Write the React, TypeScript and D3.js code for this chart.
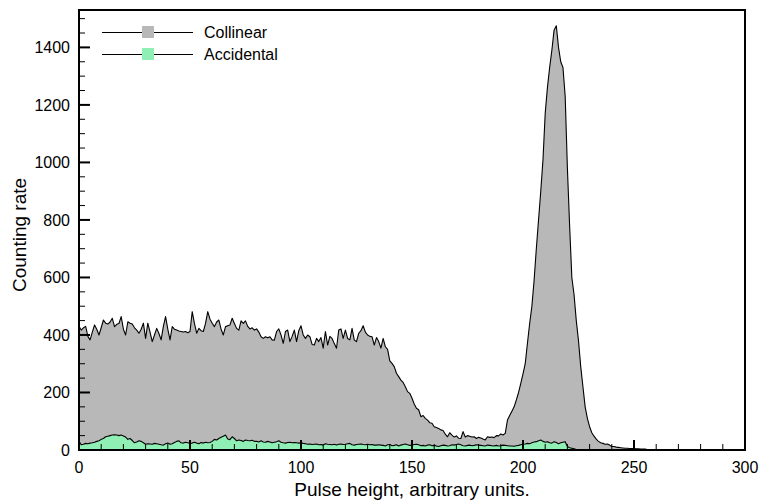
import * as d3 from 'd3';

// pulse height channels 0..300
const pulseHeight = d3.range(0, 301);

// counting rate, collinear coincidences (one value per channel)
const collinear = [
  430, 417, 425, 430, 395, 383, 410, 435, 420, 400,
  425, 452, 441, 438, 445, 458, 429, 437, 440, 464,
  420, 400, 446, 441, 438, 425, 417, 406, 420, 441,
  388, 441, 410, 377, 400, 423, 405, 383, 430, 464,
  420, 383, 429, 420, 417, 414, 412, 410, 412, 408,
  412, 481, 440, 406, 423, 415, 412, 440, 481, 455,
  441, 429, 445, 452, 420, 400, 429, 432, 435, 458,
  440, 423, 417, 449, 440, 449, 430, 421, 425, 417,
  421, 410, 394, 388, 394, 390, 394, 383, 382, 412,
  421, 400, 371, 412, 417, 377, 395, 417, 377, 415,
  432, 400, 388, 400, 394, 367, 365, 388, 377, 391,
  354, 412, 365, 395, 388, 370, 354, 417, 421, 388,
  417, 388, 383, 423, 382, 377, 406, 415, 432, 410,
  400, 395, 394, 365, 391, 377, 354, 388, 359, 350,
  310, 301, 290, 267, 255, 243, 235, 220, 203, 197,
  180, 160, 145, 140, 116, 120, 110, 104, 95, 93,
  81, 78, 75, 70, 68, 55, 46, 60, 52, 45,
  49, 41, 40, 64, 45, 50, 48, 45, 46, 40,
  44, 42, 38, 35, 46, 44, 45, 43, 50, 49,
  56, 52, 58, 104, 120, 135, 150, 174, 200, 232,
  265, 300, 371, 440, 500, 590, 700, 800, 900, 1009,
  1170, 1260, 1330, 1390, 1460, 1475, 1400, 1350, 1330, 1230,
  980, 780, 600, 540, 450, 380, 290, 220, 150, 110,
  81, 60, 48, 38, 30, 25, 23, 20, 21, 17,
  12, 12, 10, 9, 8, 7, 6, 6, 5, 5,
  5, 4, 4, 3, 3, 3, 2, 2, 2, 1,
  1, 1, 2, 1, 0, 1, 2, 1, 0, 0,
  1, 0, 0, 1, 0, 0, 0, 1, 0, 0,
  0, 0, 1, 0, 0, 0, 0, 0, 1, 0,
  0, 0, 0, 0, 1, 0, 0, 0, 0, 0,
  0,
];

// counting rate, accidental coincidences
const accidental = [
  30, 18, 20, 23, 22, 24, 25, 27, 30, 32,
  37, 40, 46, 48, 50, 52, 53, 52, 50, 52,
  49, 45, 37, 40, 33, 25, 28, 32, 30, 25,
  20, 22, 21, 20, 23, 22, 20, 18, 17, 22,
  24, 20, 22, 26, 30, 32, 25, 24, 27, 25,
  23, 24, 27, 24, 22, 26, 24, 27, 25, 26,
  30, 37, 35, 40, 44, 48, 52, 38, 36, 46,
  40, 32, 35, 33, 30, 35, 33, 32, 34, 30,
  30, 28, 32, 28, 27, 30, 28, 25, 27, 29,
  32, 27, 25, 24, 26, 27, 25, 26, 25, 24,
  25, 23, 22, 20, 21, 19, 20, 21, 18, 19,
  17, 22, 20, 19, 18, 20, 17, 20, 21, 19,
  20, 22, 23, 18, 17, 19, 20, 21, 19, 18,
  20, 18, 19, 17, 17, 18, 17, 16, 14, 18,
  19, 15, 16, 18, 14, 17, 19, 21, 18, 16,
  17, 19, 20, 18, 15, 16, 14, 17, 18, 15,
  16, 14, 12, 15, 17, 16, 14, 15, 18, 17,
  19, 21, 18, 15, 14, 16, 17, 15, 16, 18,
  17, 16, 15, 14, 17, 16, 15, 14, 16, 14,
  15, 17, 16, 15, 14, 14, 13, 15, 16, 18,
  20, 21, 23, 22, 25, 28, 29, 32, 35, 30,
  27, 29, 25, 24, 29, 26, 22, 25, 27, 29,
  12, 8, 6, 4, 2, 1, 0, 0, 0, 0,
  0, 0, 0, 0, 0, 0, 0, 0, 0, 0,
  0, 0, 0, 0, 0, 0, 0, 0, 0, 0,
  0, 0, 0, 0, 0, 0, 0, 0, 0, 0,
  0, 0, 0, 0, 0, 0, 0, 0, 0, 0,
  0, 0, 0, 0, 0, 0, 0, 0, 0, 0,
  0, 0, 0, 0, 0, 0, 0, 0, 0, 0,
  0, 0, 0, 0, 0, 0, 0, 0, 0, 0,
  0,
];

const xTickLabels = [0, 50, 100, 150, 200, 250, 300];
const yTickLabels = [0, 200, 400, 600, 800, 1000, 1200, 1400];
const seriesNames = ['Collinear', 'Accidental'];
const seriesColors = ['#b8b8b8', '#8fefb4'];

const W = 759;
const H = 500;
const margin = { top: 10, right: 14, bottom: 50, left: 79 };
const font = '"Liberation Sans", Arial, Helvetica, sans-serif';

export default function App() {
  const x = d3.scaleLinear().domain([0, 300]).range([margin.left, W - margin.right]);
  const y = d3.scaleLinear().domain([0, 1530]).range([H - margin.bottom, margin.top]);

  const area = d3.area<number>()
    .x((_, i) => x(pulseHeight[i]))
    .y0(y(0))
    .y1(d => y(d));
  const line = d3.line<number>()
    .x((_, i) => x(pulseHeight[i]))
    .y(d => y(d));

  const series = [collinear, accidental];
  const x0 = x(0), x1 = x(300), yb = y(0), yt = margin.top;

  return (
    <svg width={W} height={H} style={{ position: 'absolute', left: 0, top: 0, background: '#fff' }}
      fontFamily={font}>
      {/* filled spectra */}
      {series.map((s, i) => (
        <g key={seriesNames[i]}>
          <path d={area(s) ?? ''} fill={seriesColors[i]} />
          <path d={line(s) ?? ''} fill="none" stroke="#000" strokeWidth={1.1} strokeLinejoin="round" />
        </g>
      ))}

      {/* frame */}
      <rect x={x0} y={yt} width={x1 - x0} height={yb - yt} fill="none" stroke="#000" strokeWidth={2} />

      {/* x ticks */}
      {d3.range(0, 301, 10).map(v => (
        <line key={'xm' + v} x1={x(v)} x2={x(v)} y1={yb} y2={yb - (v % 50 === 0 ? 10 : 6)}
          stroke="#000" strokeWidth={v % 50 === 0 ? 2 : 1} />
      ))}
      {xTickLabels.map(v => (
        <text key={'xl' + v} x={x(v)} y={yb + 23} fontSize={16} textAnchor="middle">{v}</text>
      ))}

      {/* y ticks */}
      {d3.range(0, 1501, 50).map(v => (
        <line key={'ym' + v} x1={x0} x2={x0 + (v % 200 === 0 ? 11 : 6)} y1={y(v)} y2={y(v)}
          stroke="#000" strokeWidth={v % 200 === 0 ? 2 : 1} />
      ))}
      {yTickLabels.map(v => (
        <text key={'yl' + v} x={x0 - 9} y={y(v)} dy="0.35em" fontSize={16} textAnchor="end">{v}</text>
      ))}

      {/* axis titles */}
      <text x={(x0 + x1) / 2} y={H - 4} fontSize={19} textAnchor="middle">Pulse height, arbitrary units.</text>
      <text transform={`translate(26, ${(yt + yb) / 2 + 5}) rotate(-90)`} fontSize={19} textAnchor="middle">Counting rate</text>

      {/* legend */}
      {seriesNames.map((name, i) => {
        const ly = 32.5 + i * 22;
        return (
          <g key={'lg' + name}>
            <line x1={102} x2={193} y1={ly} y2={ly} stroke="#000" strokeWidth={1} />
            <rect x={142} y={ly - 6.5} width={12} height={12} fill={seriesColors[i]} />
            <text x={204} y={ly} dy="0.35em" fontSize={16}>{name}</text>
          </g>
        );
      })}
    </svg>
  );
}
